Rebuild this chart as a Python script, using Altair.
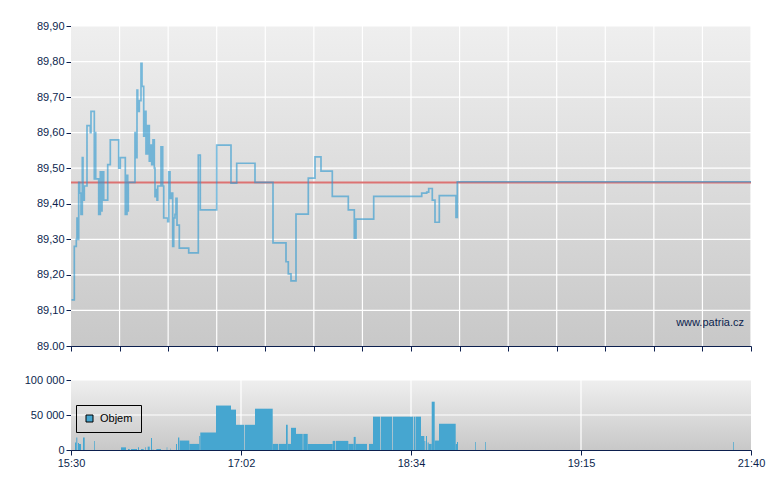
import altair as alt
import pandas as pd

# ---------------- data ----------------
# sequence index along the session (0 .. 680), price level starting at that index
price_t = [0.5, 3.3, 5.3, 6, 7, 7.7, 8.7, 10, 11.3, 12, 13.3, 16, 19.3, 20, 23.3, 24, 24.7,
           27.7, 29.3, 30.3, 31, 32.7, 36.7, 39.3, 47.7, 49.3, 54.3, 56, 56.7, 57.3,
           64, 65, 66, 66.7, 68.3, 70, 71, 72.7, 73.3, 75, 76.7, 78.3, 79.3, 80.7, 82,
           83.3, 84, 85, 86, 86.7, 90, 91.7, 92.7, 96.7, 97.7, 99, 100, 101.7, 102.7,
           104, 105, 106, 108.3, 117.7, 127.3, 129.3, 145.7, 160, 165.7, 184, 202, 215,
           217.3, 220, 225, 237.3, 244, 250, 261.3, 277.3, 283.3, 285, 302.7, 350.7,
           355.7, 357.7, 361.3, 364, 368.3, 385, 386.3, 680]
price_v = [89.13, 89.28, 89.30, 89.36, 89.30, 89.46, 89.43, 89.37, 89.53, 89.41, 89.45,
           89.62, 89.60, 89.66, 89.47, 89.60, 89.47, 89.37, 89.49, 89.38, 89.49, 89.41,
           89.51, 89.58, 89.50, 89.53, 89.37, 89.48, 89.38, 89.46, 89.60, 89.53, 89.72,
           89.66, 89.69, 89.795, 89.73, 89.59, 89.66, 89.54, 89.62, 89.52, 89.565, 89.51,
           89.58, 89.50, 89.42, 89.44, 89.41, 89.45, 89.56, 89.45, 89.36, 89.35, 89.49,
           89.415, 89.43, 89.28, 89.36, 89.37, 89.415, 89.34, 89.275, 89.262, 89.537,
           89.383, 89.565, 89.458, 89.514, 89.46, 89.29, 89.237, 89.203, 89.183, 89.371,
           89.472, 89.532, 89.492, 89.421, 89.383, 89.303, 89.357, 89.421, 89.43, 89.433,
           89.443, 89.41, 89.348, 89.423, 89.362, 89.462, 89.462]
prev_close = 89.46

vol_start = [4, 5.3, 7, 8, 12, 23, 50, 57, 60, 67, 70, 74, 76.7, 80, 81.7, 85.3, 95.7, 99,
             105, 107, 108.7, 118.3, 128.3, 129.3, 145, 160, 165, 174, 184, 201.7, 208, 215,
             216.7, 220, 225, 232.3, 236.7, 261.7, 265, 277.3, 282.7, 284.7, 298, 302, 310,
             322, 343, 344.7, 350, 353.3, 355, 356.7, 357.7, 360.7, 363.7, 368, 384.7, 386,
             404, 414, 662]
vol_end = [5.3, 6.3, 8, 10, 13.7, 23.7, 55, 58.7, 66, 68, 72.7, 74.7, 78.7, 81, 82.3, 90,
           96.3, 99.5, 106, 108.3, 118.3, 128.3, 129.3, 145, 160, 165, 173.3, 184, 201.7,
           207.3, 215, 216.7, 220, 225, 231.7, 236.7, 261.7, 264.3, 277.3, 282.7, 284.7, 296,
           302, 309.3, 321.3, 342.3, 344.3, 350, 353.3, 354.3, 356, 357.7, 360.7, 363.7,
           368, 384.7, 386, 387, 404.7, 414.7, 662.7]
vol_value = [10600, 18000, 10000, 8700, 18000, 13000, 3800, 1400, 1400, 3800, 1400, 3800,
             4800, 17000, 1000, 1400, 3800, 2000, 8600, 18000, 13500, 8700, 20000, 25000,
             63500, 57700, 36000, 36000, 59000, 8700, 8700, 36000, 8700, 31700, 23000, 23000,
             8700, 13000, 13000, 8700, 18700, 8700, 8700, 47600, 47600, 47600, 47600, 47600,
             20000, 13000, 20000, 10600, 8700, 69000, 13500, 37500, 8700, 11500, 11500,
             11500, 11500]

x_tick_labels = ["15:30", "17:02", "18:34", "19:15", "21:40"]
X_MAX = 680
top_x_ticks = [i * X_MAX / 14 for i in range(15)]
bot_x_ticks = [i * X_MAX / 4 for i in range(5)]
top_y_ticks = [round(89.0 + i * 0.1, 2) for i in range(10)]
bot_y_ticks = [0, 50000, 100000]

NAVY = "#0c1f4e"
FONT = "Liberation Sans"
W = 680
H_TOP = 320
H_BOT = 70

grad = alt.Gradient(gradient="linear", x1=0, x2=0, y1=0, y2=1,
                    stops=[alt.GradientStop(color="#efefef", offset=0),
                           alt.GradientStop(color="#c8c8c8", offset=1)])

xs = alt.Scale(domain=[0, X_MAX], nice=False, zero=False)
ys_top = alt.Scale(domain=[89.0, 89.9], nice=False, zero=False)
ys_bot = alt.Scale(domain=[0, 100000], nice=False)

ax_top_x = alt.Axis(values=top_x_ticks, labels=False, title=None, tickSize=5)
ax_top_y = alt.Axis(values=top_y_ticks, title=None, tickSize=5,
                    labelExpr="datum.value == 89 ? '89.00' : replace(format(datum.value, '.2f'), '.', ',')")
label_arr = "[" + ",".join("'%s'" % l for l in x_tick_labels) + "]"
ax_bot_x = alt.Axis(values=bot_x_ticks, title=None, tickSize=5, labelPadding=2, labelFlush=False,
                    labelExpr=label_arr + "[round(datum.value / %s)]" % (X_MAX / 4))
ax_bot_y = alt.Axis(values=bot_y_ticks, title=None, tickSize=5,
                    labelExpr="replace(format(datum.value, ','), ',', ' ')")

one = pd.DataFrame({"a": [0]})

# ---------------- top panel ----------------
bg_top = alt.Chart(one).mark_rect(color=grad).encode(
    x=alt.value(0), x2=alt.value(W), y=alt.value(0), y2=alt.value(H_TOP))
gx_top = alt.Chart(pd.DataFrame({"x": top_x_ticks[1:]})).mark_rule(
    color="white", strokeWidth=1.2).encode(x=alt.X("x:Q", scale=xs, axis=ax_top_x))
gy_top = alt.Chart(pd.DataFrame({"y": top_y_ticks[1:]})).mark_rule(
    color="white", strokeWidth=1.2).encode(y=alt.Y("y:Q", scale=ys_top, axis=ax_top_y))
red = alt.Chart(pd.DataFrame({"y": [prev_close]})).mark_rule(
    color="#dc7272", strokeWidth=2).encode(y=alt.Y("y:Q", scale=ys_top, axis=ax_top_y))

price_df = pd.DataFrame({"t": price_t, "p": price_v})
line = alt.Chart(price_df).mark_line(
    interpolate="step-after", color="#2e9ad0", strokeWidth=1.7, opacity=0.62).encode(
    x=alt.X("t:Q", scale=xs, axis=ax_top_x),
    y=alt.Y("p:Q", scale=ys_top, axis=ax_top_y))
wm = alt.Chart(one).mark_text(
    text="www.patria.cz", align="right", baseline="middle", font=FONT, fontSize=11,
    color=NAVY).encode(x=alt.value(673), y=alt.value(297))

top = alt.layer(bg_top, gx_top, gy_top, red, line, wm).properties(width=W, height=H_TOP)

# ---------------- bottom panel ----------------
bg_bot = alt.Chart(one).mark_rect(color=grad).encode(
    x=alt.value(0), x2=alt.value(W), y=alt.value(0), y2=alt.value(H_BOT))
gx_bot = alt.Chart(pd.DataFrame({"x": bot_x_ticks[1:4]})).mark_rule(
    color="white", strokeWidth=1.2).encode(x=alt.X("x:Q", scale=xs, axis=ax_bot_x))
gy_bot = alt.Chart(pd.DataFrame({"y": bot_y_ticks[1:]})).mark_rule(
    color="white", strokeWidth=1.2).encode(y=alt.Y("y:Q", scale=ys_bot, axis=ax_bot_y))

vol_df = pd.DataFrame({"s": vol_start, "e": vol_end, "v": vol_value, "serie": "Objem"})
bars = alt.Chart(vol_df).mark_rect().encode(
    x=alt.X("s:Q", scale=xs, axis=ax_bot_x),
    x2="e:Q",
    y=alt.Y("v:Q", scale=ys_bot, axis=ax_bot_y),
    y2=alt.datum(0),
    color=alt.Color("serie:N", scale=alt.Scale(range=["#46a6d0"]),
                    legend=alt.Legend(title=None, orient="none", legendX=5, legendY=25,
                                      strokeColor="black", padding=8, symbolType="square",
                                      symbolSize=49, symbolStrokeColor="black",
                                      symbolStrokeWidth=1, labelFont=FONT, labelFontSize=11,
                                      labelColor="black", labelOffset=5)),
)

bottom = alt.layer(bg_bot, gx_bot, gy_bot, bars).properties(width=W, height=H_BOT)

chart = alt.vconcat(top, bottom, spacing=22).resolve_legend(color="independent").properties(
    padding={"left": 16, "top": 12, "right": 5, "bottom": 5}
).configure_view(stroke=None).configure_axis(
    domainColor=NAVY, tickColor=NAVY, labelColor=NAVY, labelFont=FONT, labelFontSize=11,
    grid=False, domainWidth=1, tickWidth=1
)

chart.save("out.html", embed_options={"renderer": "svg", "actions": False})
